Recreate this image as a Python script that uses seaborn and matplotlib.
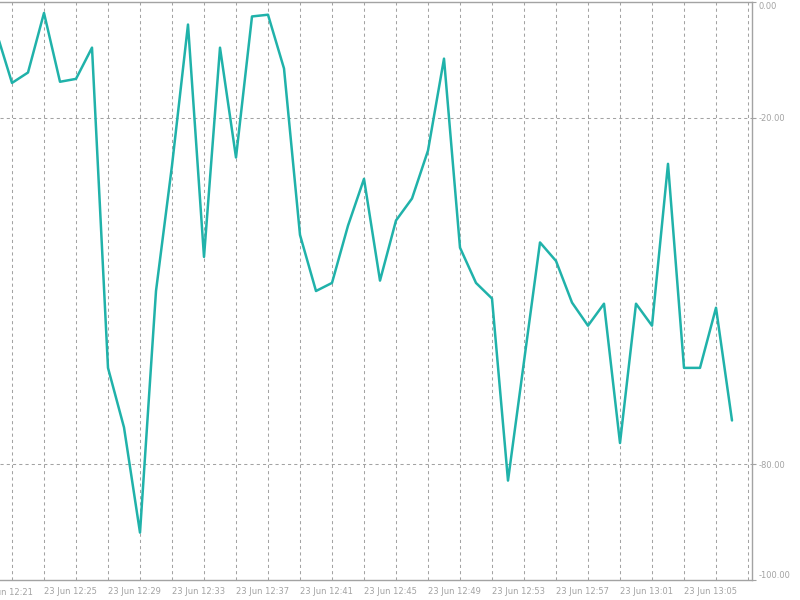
import matplotlib
matplotlib.use("Agg")
import matplotlib.pyplot as plt
import seaborn as sns
import pandas as pd
import numpy as np

# --- DATA (Williams %R, 1 minute bars, 23 Jun) ---
TIMES = ["12:22", "12:23", "12:24", "12:25", "12:26", "12:27", "12:28", "12:29",
         "12:30", "12:31", "12:32", "12:33", "12:34", "12:35", "12:36", "12:37",
         "12:38", "12:39", "12:40", "12:41", "12:42", "12:43", "12:44", "12:45",
         "12:46", "12:47", "12:48", "12:49", "12:50", "12:51", "12:52", "12:53",
         "12:54", "12:55", "12:56", "12:57", "12:58", "12:59", "13:00", "13:01",
         "13:02", "13:03", "13:04", "13:05", "13:06", "13:07", "13:08"]
WPR = [-5.0, -14.0, -12.2, -1.9, -13.8, -13.3, -7.9, -63.3,
       -73.6, -91.8, -50.0, -28.3, -3.9, -44.1, -7.9, -26.9,
       -2.5, -2.2, -11.5, -40.3, -50.0, -48.6, -38.7, -30.6,
       -48.2, -37.8, -34.0, -25.7, -9.8, -42.5, -48.6, -51.3,
       -82.8, -62.2, -41.6, -44.8, -52.0, -56.0, -52.2, -76.3,
       -52.2, -56.0, -28.0, -63.3, -63.3, -52.9, -72.4]
TICK_TIMES = ["12:21", "12:25", "12:29", "12:33", "12:37", "12:41",
              "12:45", "12:49", "12:53", "12:57", "13:01", "13:05"]
Y_TICKS = [0, -20, -80, -100]
LEVELS = [-20, -80]
# -----------------------------------------------

GREY = "#a3a3a3"
LINE = "#20b2aa"
DASH = (0, (3, 3))


def to_min(t):
    h, m = t.split(":")
    return int(h) * 60 + int(m)


df = pd.DataFrame({"time": TIMES, "wpr": WPR})
df["minute"] = df["time"].map(to_min)

sns.set_style("white")
plt.rcParams["font.family"] = ["DejaVu Sans"]

fig = plt.figure(figsize=(8, 6), dpi=100)
ax = fig.add_axes([0, 20 / 600, 752 / 800, 578 / 600])

sns.lineplot(data=df, x="minute", y="wpr", color=LINE, linewidth=1.8, ax=ax, zorder=3)

start = to_min(TICK_TIMES[0])

# dashed grid every 2 minutes + level lines
ax.set_xticks(np.arange(start + 2, start + 49, 2), minor=True)
ax.grid(True, which="both", axis="x", color=GREY, linestyle=DASH, linewidth=0.75)
for lv in LEVELS:
    ax.axhline(lv, color=GREY, linestyle=DASH, linewidth=0.75, zorder=1)

ax.set_xticks([to_min(t) for t in TICK_TIMES])
ax.set_xticklabels(["23 Jun " + t for t in TICK_TIMES], ha="left")
ax.yaxis.tick_right()
ax.set_yticks(Y_TICKS)
ax.set_yticklabels([f"{v:.2f}" for v in Y_TICKS])
for lab in ax.get_yticklabels():
    if lab.get_text() == "0.00":
        lab.set_va("top")
    elif lab.get_text() == "-100.00":
        lab.set_va("bottom")

# limits last, set_xticks would widen them again
ax.set_xlim(start + 1.25, start + 48.25)
ax.set_ylim(-100, 0)

# first label sits left of the view and is cut by the window edge (as in MT4)
ax.annotate("23 Jun " + TICK_TIMES[0], xy=(start, 0), xycoords=("data", "axes fraction"),
            xytext=(0, -5.6), textcoords="offset points", ha="left", va="top",
            fontsize=6, color=GREY, annotation_clip=False)

ax.tick_params(axis="x", which="major", length=3, width=0.8, color=GREY,
               labelsize=6, labelcolor=GREY, pad=2)
ax.tick_params(axis="x", which="minor", length=0)
ax.tick_params(axis="y", length=3, width=0.8, color=GREY,
               labelsize=6, labelcolor=GREY, pad=2, right=True, left=False)

ax.set_xlabel("")
ax.set_ylabel("")
for side in ["top", "right", "bottom"]:
    ax.spines[side].set_color(GREY)
    ax.spines[side].set_linewidth(1)
ax.spines["left"].set_visible(False)

fig.savefig("out.png", dpi=100)
